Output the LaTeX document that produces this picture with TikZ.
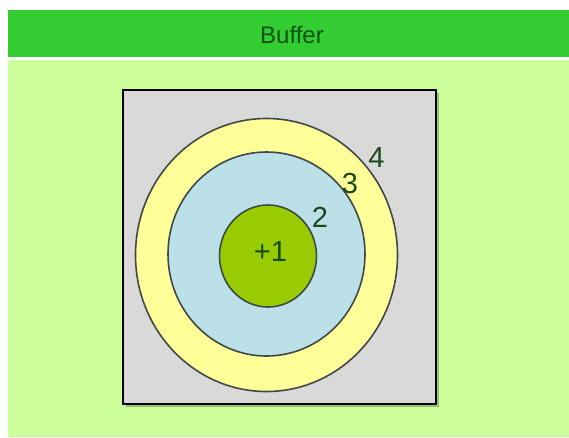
\documentclass[tikz,border=0pt]{standalone}
\usepackage{fontspec}
\setmainfont{Liberation Sans}
\definecolor{hdr}{HTML}{33CC33}
\definecolor{panel}{HTML}{CCFF99}
\definecolor{sq}{HTML}{D9D9D9}
\definecolor{ring4}{HTML}{FFFF99}
\definecolor{ring3}{HTML}{BBE0E8}
\definecolor{ring2}{HTML}{99CC00}
\definecolor{txt}{HTML}{1A4A1A}
\definecolor{hdrtxt}{HTML}{0E520E}
\definecolor{edge}{HTML}{404848}
\tikzset{
  ringline/.style={draw=edge, line width=1.6pt},
  lbl/.style={inner sep=0pt, text=txt, font=\fontsize{29}{29}\selectfont},
}
\begin{document}
\begin{tikzpicture}[x=1pt,y=-1pt]
\useasboundingbox (0,0) rectangle (569,437);
\fill[white] (0,0) rectangle (569,437);
\fill[hdr] (8,10) rectangle (569,57);
\node[inner sep=0pt, text=hdrtxt, font=\fontsize{24}{24}\selectfont] (title) at (292,35) {Buffer};
\fill[panel] (8,60) rectangle (569,437);
\fill[black!25!panel] (126,93) rectangle (439,407);
\filldraw[fill=sq, draw=black, line width=2.8pt] (123,90) rectangle (436,404);
\filldraw[fill=ring4, ringline] (266.5,255) ellipse [x radius=131, y radius=136.5];
\filldraw[fill=ring3, ringline] (266.5,254) ellipse [x radius=98.5, y radius=102];
\filldraw[fill=ring2, ringline] (268,256) ellipse [x radius=48.5, y radius=51];
\node[lbl] (l1) at (270.5,252) {+1};
\node[lbl] (l2) at (320,217) {2};
\node[lbl] (l3) at (350,184) {3};
\node[lbl] (l4) at (376.5,157.5) {4};
\end{tikzpicture}
\end{document}
